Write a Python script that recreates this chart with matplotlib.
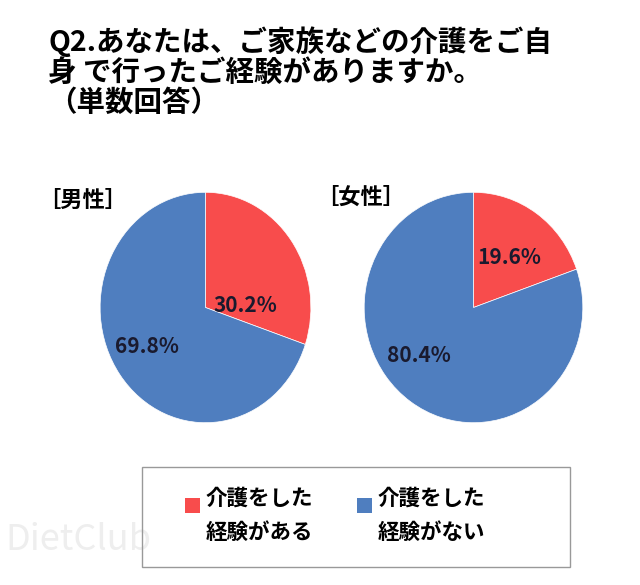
import matplotlib.pyplot as plt
from matplotlib.patches import Rectangle

plt.rcParams['font.family'] = ['Noto Sans CJK JP', 'DejaVu Sans']

title = "Q2.あなたは、ご家族などの介護をご自\n身 で行ったご経験がありますか。\n（単数回答）"
groups = ["［男性］", "［女性］"]
categories = ["介護をした\n経験がある", "介護をした\n経験がない"]
male = [30.2, 69.8]
female = [19.6, 80.4]
colors = ["#F84C4C", "#4F7EBF"]

fig = plt.figure(figsize=(6.4, 5.85), dpi=100)
W, H = 640, 585

fig.text(48 / W, 1 - 26 / H, title, fontsize=20.5, fontweight='bold',
         va='top', ha='left', linespacing=1.1)

# pie areas in pixel boxes (left, top, right, bottom)
boxes = [(98, 190, 313, 425), (362, 190, 585, 425)]
label_pos = [[(0.38, 0.02), (-0.56, -0.34)], [(0.33, 0.43), (-0.5, -0.42)]]
head_pos = [(38, 200), (316, 197)]

for i, vals in enumerate([male, female]):
    l, t, r, b = boxes[i]
    ax = fig.add_axes([l / W, 1 - b / H, (r - l) / W, (b - t) / H])
    ax.pie(vals, colors=colors, startangle=90, counterclock=False,
           wedgeprops=dict(edgecolor='white', linewidth=0.5))
    ax.set_aspect('auto')
    ax.set_xlim(-1.02, 1.02)
    ax.set_ylim(-1.02, 1.02)
    for v, (x, y) in zip(vals, label_pos[i]):
        ax.text(x, y, f"{v:.1f}%", ha='center', va='center', fontsize=15,
                fontweight='bold', color='#1a1a2e')
    fig.text(head_pos[i][0] / W, 1 - head_pos[i][1] / H, groups[i],
             fontsize=16, fontweight='bold', va='center', ha='left')

# legend box drawn by hand: key square sits on the first text line
fig.patches.append(Rectangle((142 / W, 1 - 567 / H), 428 / W, 100 / H,
                             transform=fig.transFigure, fill=False,
                             edgecolor='#999999', linewidth=1.0))
key_x = [185, 357]
for c, lab, kx in zip(colors, categories, key_x):
    fig.patches.append(Rectangle((kx / W, 1 - 513 / H), 15 / W, 15 / H,
                                 transform=fig.transFigure, facecolor=c,
                                 edgecolor='none'))
    fig.text((kx + 21) / W, 1 - 488 / H, lab, fontsize=15.5, fontweight='bold',
             va='top', ha='left', linespacing=1.75)

fig.text(5 / W, 1 - 540 / H, "DietClub", fontsize=26, color='#eeeeee',
         va='center', ha='left', zorder=0)

fig.savefig("out.png", dpi=100)
